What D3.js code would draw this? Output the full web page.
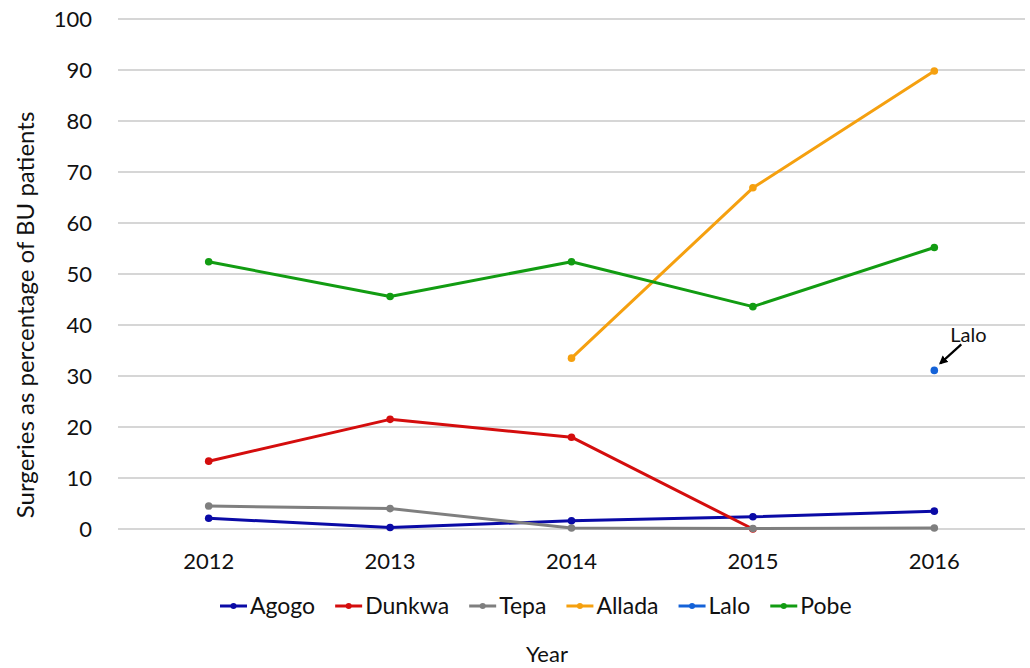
<!DOCTYPE html>
<html>
<head>
<meta charset="utf-8">
<script src="https://cdn.jsdelivr.net/npm/d3@7"></script>
<style>
  body { margin: 0; background: #fff; }
  svg { font-family: Lato, "Open Sans", sans-serif; }
</style>
</head>
<body>
<div id="chart"></div>
<script>
// Data
const years = ["2012", "2013", "2014", "2015", "2016"];
const agogo  = [2.1, 0.3, 1.6, 2.4, 3.5];
const dunkwa = [13.3, 21.5, 18.0, 0, null];
const tepa   = [4.5, 4.0, 0.2, 0.1, 0.2];
const allada = [null, null, 33.5, 66.9, 89.8];
const lalo   = [null, null, null, null, 31.1];
const pobe   = [52.4, 45.6, 52.4, 43.6, 55.2];
const yTicks = [0, 10, 20, 30, 40, 50, 60, 70, 80, 90, 100];

const series = [
  { name: "Agogo",  values: agogo,  color: "#0a0aa6" },
  { name: "Dunkwa", values: dunkwa, color: "#d40d0d" },
  { name: "Tepa",   values: tepa,   color: "#7f7f7f" },
  { name: "Allada", values: allada, color: "#f5a00f" },
  { name: "Lalo",   values: lalo,   color: "#1462d8" },
  { name: "Pobe",   values: pobe,   color: "#129c12" }
];

// Chart settings
const W = 1030, H = 668;
const margin = { top: 19, right: 5, bottom: 139, left: 118 },
      width = W - margin.left - margin.right,
      height = H - margin.top - margin.bottom;

const root = d3.select("#chart")
  .append("svg")
  .attr("width", W)
  .attr("height", H);

const svg = root.append("g")
  .attr("transform", `translate(${margin.left},${margin.top})`);

// Scales
const x = d3.scaleBand().domain(years).range([0, width]);
const y = d3.scaleLinear().domain([0, 100]).range([height, 0]);
const cx = d => x(d) + x.bandwidth() / 2;

// Gridlines
svg.append("g")
  .selectAll("line")
  .data(yTicks)
  .join("line")
  .attr("x1", 0)
  .attr("x2", width)
  .attr("y1", d => y(d))
  .attr("y2", d => y(d))
  .attr("stroke", "#c8c8c8")
  .attr("stroke-width", 1.3);

// Y axis
const yAxis = svg.append("g")
  .call(d3.axisLeft(y).tickValues(yTicks).tickSize(0).tickPadding(26));
yAxis.select(".domain").remove();
yAxis.selectAll("text")
  .attr("font-size", 22)
  .attr("fill", "#111")
  .style("font-family", "Lato, sans-serif");

// X axis
const xAxis = svg.append("g")
  .attr("transform", `translate(0,${height})`)
  .call(d3.axisBottom(x).tickSize(0).tickPadding(24));
xAxis.select(".domain").remove();
xAxis.selectAll("text")
  .attr("font-size", 22)
  .attr("fill", "#111")
  .style("font-family", "Lato, sans-serif");

// Lines and markers
const line = d3.line()
  .defined(d => d.v != null)
  .x(d => cx(d.year))
  .y(d => y(d.v));

series.forEach(s => {
  const pts = years.map((yr, i) => ({ year: yr, v: s.values[i] }));
  svg.append("path")
    .datum(pts)
    .attr("fill", "none")
    .attr("stroke", s.color)
    .attr("stroke-width", 3)
    .attr("stroke-linejoin", "round")
    .attr("d", line);
  svg.append("g")
    .selectAll("circle")
    .data(pts.filter(d => d.v != null))
    .join("circle")
    .attr("cx", d => cx(d.year))
    .attr("cy", d => y(d.v))
    .attr("r", 3.8)
    .attr("fill", s.color);
});

// Lalo annotation
const lx = cx("2016"), ly = y(lalo[4]);
root.append("defs").append("marker")
  .attr("id", "arrow")
  .attr("viewBox", "0 0 10 10")
  .attr("refX", 8).attr("refY", 5)
  .attr("markerWidth", 4).attr("markerHeight", 4)
  .attr("orient", "auto")
  .append("path")
  .attr("d", "M0,0L10,5L0,10z")
  .attr("fill", "#000");
svg.append("line")
  .attr("x1", lx + 27).attr("y1", ly - 26)
  .attr("x2", lx + 6).attr("y2", ly - 7)
  .attr("stroke", "#000")
  .attr("stroke-width", 2.2)
  .attr("marker-end", "url(#arrow)");
svg.append("text")
  .attr("x", lx + 16).attr("y", ly - 28)
  .attr("font-size", 20)
  .attr("fill", "#111")
  .text("Lalo");

// Y title
root.append("text")
  .attr("transform", "translate(34,315) rotate(-90)")
  .attr("text-anchor", "middle")
  .attr("font-size", 24)
  .attr("fill", "#111")
  .text("Surgeries as percentage of BU patients");

// Legend
const legend = root.append("g").attr("transform", "translate(220,606)");
let lxPos = 0;
series.forEach(s => {
  const g = legend.append("g").attr("transform", `translate(${lxPos},0)`);
  g.append("line")
    .attr("x1", 0).attr("x2", 27)
    .attr("y1", 0).attr("y2", 0)
    .attr("stroke", s.color)
    .attr("stroke-width", 3);
  g.append("circle")
    .attr("cx", 13.5).attr("cy", 0).attr("r", 3)
    .attr("fill", s.color);
  const t = g.append("text")
    .attr("x", 30).attr("y", 8)
    .attr("font-size", 23)
    .attr("fill", "#111")
    .text(s.name);
  lxPos += 30 + t.node().getComputedTextLength() + 20;
});

// X title
root.append("text")
  .attr("x", 547).attr("y", 662)
  .attr("text-anchor", "middle")
  .attr("font-size", 22)
  .attr("fill", "#111")
  .text("Year");
</script>
</body>
</html>
